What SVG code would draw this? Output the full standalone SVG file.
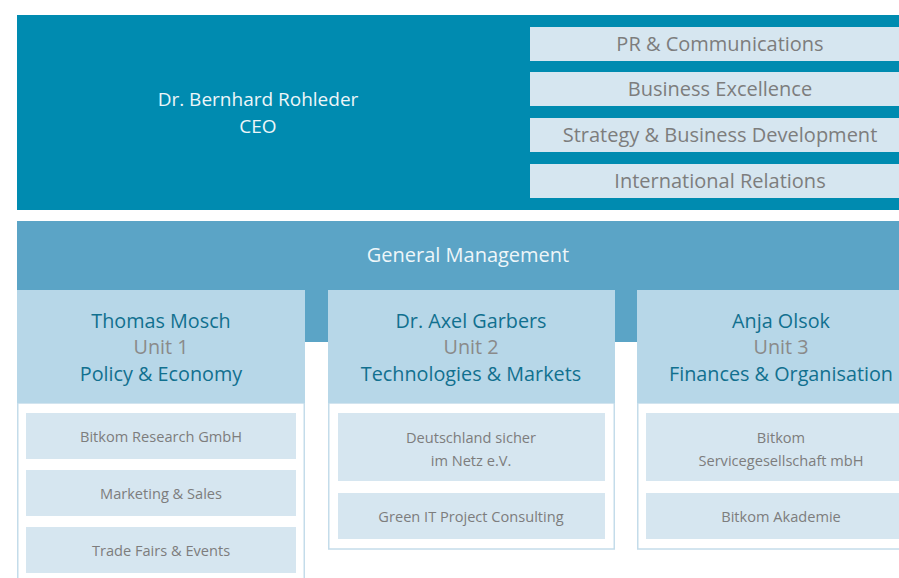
<svg xmlns="http://www.w3.org/2000/svg" width="899" height="578" viewBox="0 0 899 578">
<style>
.ceo{fill:#008bb0}
.gm{fill:#5ba4c6}
.hdr{fill:#b7d7e8}
.body{fill:#fff;stroke:#c4dcea;stroke-width:1.5}
.item{fill:#d6e6f0}
.sub{fill:#d6e6f0}
text{font-family:"Open Sans","Liberation Sans",sans-serif;text-anchor:middle}
.w{fill:#eef6f9;font-size:19px}
.gmt{fill:#eef6f9;font-size:20px}
.g{fill:#7d7d7d;font-size:20px}
.n{fill:#11708f;font-size:19.8px}
.u{fill:#8a8a8a;font-size:19.8px}
.s{fill:#7d7d7d;font-size:14.6px}
</style>
<rect width="899" height="578" fill="#fff"/>
<g id="ceo">
<rect class="ceo" x="17" y="15" width="882" height="195"/>
<text class="w" x="258" y="106">Dr. Bernhard Rohleder</text>
<text class="w" x="258" y="133">CEO</text>
</g>
<g id="staff-pr"><rect class="item" x="530" y="27" width="369" height="34"/><text class="g" x="720" y="51">PR &amp; Communications</text></g>
<g id="staff-be"><rect class="item" x="530" y="72" width="369" height="34"/><text class="g" x="720" y="96">Business Excellence</text></g>
<g id="staff-sbd"><rect class="item" x="530" y="118" width="369" height="34"/><text class="g" x="720" y="142">Strategy &amp; Business Development</text></g>
<g id="staff-ir"><rect class="item" x="530" y="164" width="369" height="34"/><text class="g" x="720" y="188">International Relations</text></g>
<g id="gm">
<rect class="gm" x="17" y="221" width="882" height="121"/>
<text class="gmt" x="468" y="262">General Management</text>
</g>
<g id="unit1">
<rect class="body" x="17.75" y="403" width="286.5" height="180"/>
<rect class="hdr" x="17" y="290" width="288" height="113"/>
<text class="n" x="161" y="328">Thomas Mosch</text>
<text class="u" x="161" y="354">Unit 1</text>
<text class="n" x="161" y="381">Policy &amp; Economy</text>
</g>
<g id="u1-research"><rect class="sub" x="26" y="413" width="270" height="46"/><text class="s" x="161" y="442">Bitkom Research GmbH</text></g>
<g id="u1-marketing"><rect class="sub" x="26" y="470" width="270" height="46"/><text class="s" x="161" y="499">Marketing &amp; Sales</text></g>
<g id="u1-fairs"><rect class="sub" x="26" y="527" width="270" height="46"/><text class="s" x="161" y="556">Trade Fairs &amp; Events</text></g>
<g id="unit2">
<rect class="body" x="328.75" y="403" width="285.5" height="146"/>
<rect class="hdr" x="328" y="290" width="287" height="113"/>
<text class="n" x="471" y="328">Dr. Axel Garbers</text>
<text class="u" x="471" y="354">Unit 2</text>
<text class="n" x="471" y="381">Technologies &amp; Markets</text>
</g>
<g id="u2-dsin"><rect class="sub" x="338" y="413" width="267" height="68"/><text class="s" x="471" y="443">Deutschland sicher</text><text class="s" x="471" y="466">im Netz e.V.</text></g>
<g id="u2-green"><rect class="sub" x="338" y="493" width="267" height="46"/><text class="s" x="471" y="522">Green IT Project Consulting</text></g>
<g id="unit3">
<rect class="body" x="637.75" y="403" width="270" height="146"/>
<rect class="hdr" x="637" y="290" width="262" height="113"/>
<text class="n" x="781" y="328">Anja Olsok</text>
<text class="u" x="781" y="354">Unit 3</text>
<text class="n" x="781" y="381">Finances &amp; Organisation</text>
</g>
<g id="u3-service"><rect class="sub" x="646" y="413" width="253" height="68"/><text class="s" x="781" y="443">Bitkom</text><text class="s" x="781" y="466">Servicegesellschaft mbH</text></g>
<g id="u3-akademie"><rect class="sub" x="646" y="493" width="253" height="46"/><text class="s" x="781" y="522">Bitkom Akademie</text></g>
<g id="connectors"></g>
</svg>
